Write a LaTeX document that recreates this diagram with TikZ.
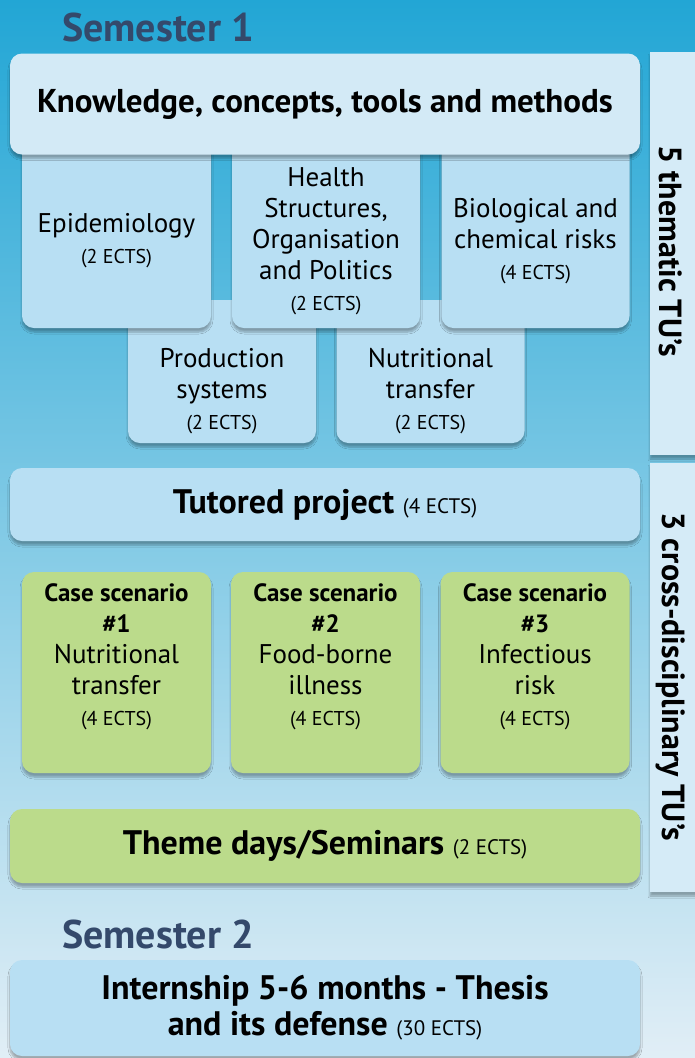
\documentclass[tikz,border=0pt]{standalone}
\usepackage{fontspec}
\setmainfont{PT Sans}
\usetikzlibrary{shadows.blur}

\definecolor{bgtop}{HTML}{22A6D5}
\definecolor{bgmid}{HTML}{8AC4E0}
\definecolor{bgbot}{HTML}{E1EEF6}
\definecolor{tublue}{HTML}{B8DFF3}
\definecolor{tulight}{HTML}{D3EAF6}
\definecolor{tugreen}{HTML}{BBDB8B}
\definecolor{tubar}{HTML}{D5EBF7}
\definecolor{semcol}{HTML}{34496B}

\newcommand\ects{\fontsize{20}{24}\selectfont}
\newcommand\ectsin{\normalfont\fontsize{21}{26}\selectfont}
\newcommand\txtsize{\fontsize{27}{31}\selectfont}
\newcommand\csfont{\fontsize{25}{31}\selectfont\bfseries}

\begin{document}
\begin{tikzpicture}[x=1pt,y=-1pt,
	unitbox/.style={rectangle, rounded corners=12pt, inner sep=0pt,
		blur shadow={shadow xshift=0pt, shadow yshift=-4pt, shadow blur steps=6, shadow opacity=30}},
	bluebox/.style={unitbox, fill=tublue},
	greenbox/.style={unitbox, fill=tugreen},
	txt/.style={align=center, inner sep=0pt, font=\txtsize},
	wide/.style={minimum width=630, align=center, font=\fontsize{34}{36}\selectfont\bfseries},
	semester/.style={anchor=west, inner sep=0pt, text=semcol, font=\fontsize{40}{44}\selectfont\bfseries},
	barlabel/.style={rotate=-90, inner sep=0pt, font=\fontsize{32}{34}\selectfont\bfseries}]
	\useasboundingbox (0,0) rectangle (695,1058);
	%background
	\shade[top color=bgtop, middle color=bgmid, bottom color=bgbot] (0,0) rectangle (695,1058);

	%right bars
	\node[unitbox, fill=tubar, rounded corners=0pt, minimum width=50, minimum height=403] (bar1) at (675,253.5) {};
	\node[barlabel] (bar1t) at (671,251) {5 thematic TU's};
	\node[unitbox, fill=tubar, rounded corners=0pt, minimum width=50, minimum height=429] (bar2) at (675,677.5) {};
	\node[barlabel] (bar2t) at (671,677) {3 cross-disciplinary TU's};

	%semester 1
	\node[semester] (sem1) at (62,27) {Semester 1};

	%second row of thematic units
	\node[bluebox, minimum width=188, minimum height=143] (prod) at (222,371.5) {};
	\node[txt] (prodt) at (222,391) {Production\\systems\\\ects(2 ECTS)};
	\node[bluebox, minimum width=188, minimum height=143] (nutr) at (430.5,371.5) {};
	\node[txt] (nutrt) at (430.5,391) {Nutritional\\transfer\\\ects(2 ECTS)};

	%first row of thematic units
	\node[bluebox, minimum width=189, minimum height=208] (epi) at (116.5,224) {};
	\node[txt] (epit) at (116.5,241) {Epidemiology\\\ects(2 ECTS)};
	\node[bluebox, minimum width=188, minimum height=208] (health) at (326,224) {};
	\node[txt] (healtht) at (326,241) {Health\\Structures,\\Organisation\\and Politics\\\ects(2 ECTS)};
	\node[bluebox, minimum width=188, minimum height=208] (bio) at (535.5,224) {};
	\node[txt] (biot) at (535.5,241) {Biological and\\chemical risks\\\ects(4 ECTS)};

	%knowledge
	\node[unitbox, wide, fill=tulight, minimum height=101, font=\fontsize{33}{36}\selectfont\bfseries] (know) at (325,104) {Knowledge, concepts, tools and methods};

	%tutored project
	\node[bluebox, wide, minimum height=73] (tut) at (325,504.5) {Tutored project {\ectsin(4 ECTS)}};

	%case scenarios
	\foreach \px/\num/\la/\lb in {116.5/1/Nutritional/transfer, 325.5/2/Food-borne/illness, 535/3/Infectious/risk}{
		\node[greenbox, minimum width=189, minimum height=201] (cs\num) at (\px,672.5) {};
		\node[txt] (cstext\num) at (\px,657) {{\csfont Case scenario}\\{\csfont\#\num}\\\la\\\lb\\\ects(4 ECTS)};
	}

	%theme days
	\node[greenbox, wide, minimum height=74] (theme) at (325,846) {Theme days/Seminars {\ectsin(2 ECTS)}};

	%semester 2
	\node[semester] (sem2) at (62,934) {Semester 2};
	\node[bluebox, wide, minimum height=96] (intern) at (325,1008) {Internship 5-6 months - Thesis\\and its defense {\ectsin(30 ECTS)}};
\end{tikzpicture}
\end{document}
